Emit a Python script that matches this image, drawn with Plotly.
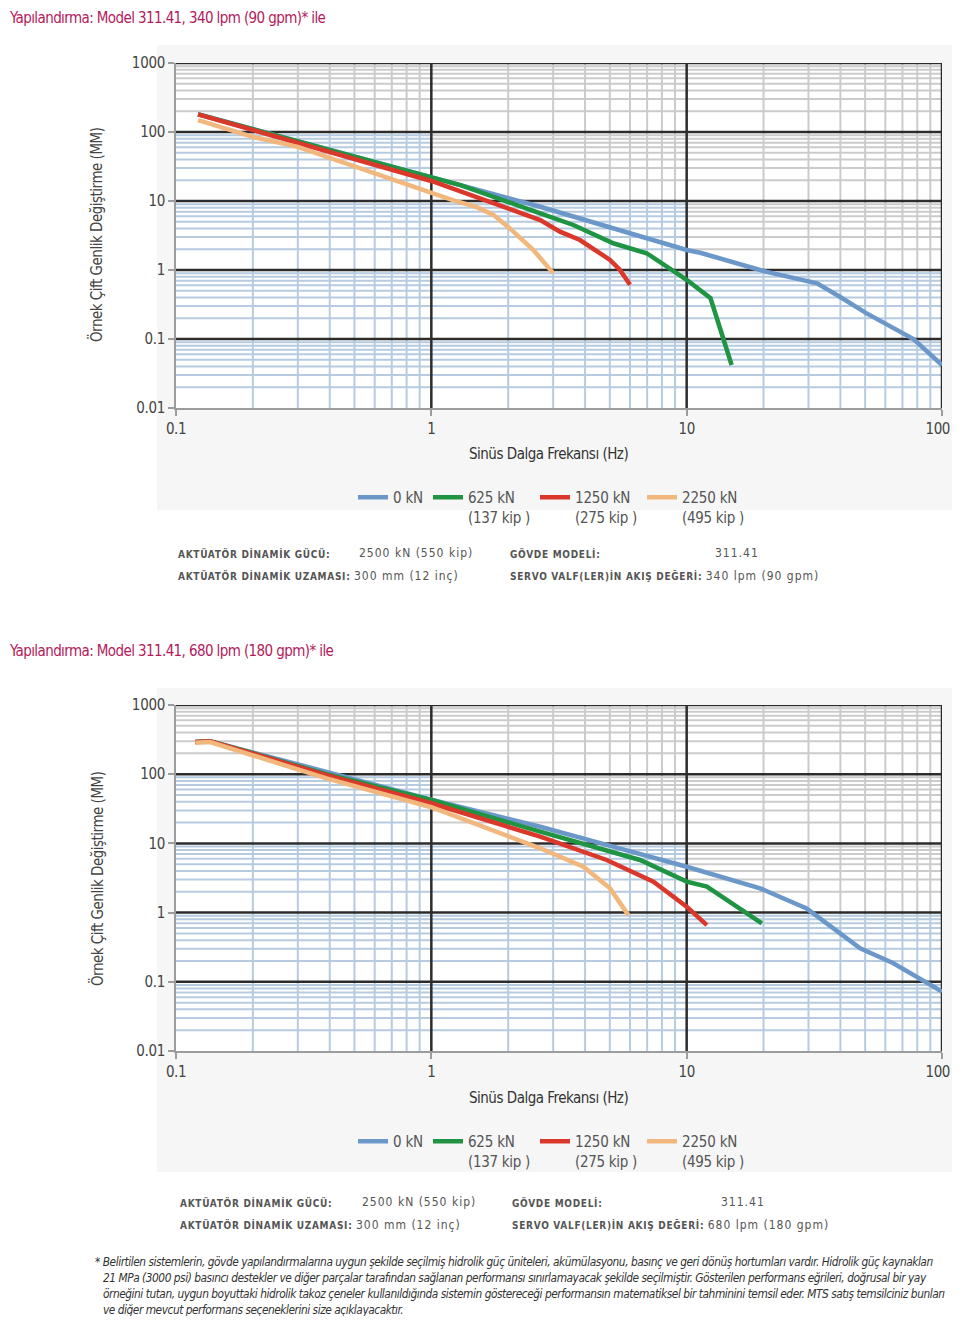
import plotly.graph_objects as go

# page is 960x1324; the browser body keeps an 8px margin, so the figure is
# sized to fit without scrollbars and reference page pixels are shifted by that margin
PAGE_W, PAGE_H, OFF = 960, 1324, 8
W, H = PAGE_W - OFF, PAGE_H - 2 * OFF
FONT = "DejaVu Sans Condensed, sans-serif"

# ---------------- data ----------------
series_labels = [("0 kN", ""), ("625 kN", "(137 kip )"), ("1250 kN", "(275 kip )"), ("2250 kN", "(495 kip )")]
series_colors = ["#6c98c9", "#1f9443", "#d9382b", "#f1b77c"]

# chart 1 : 340 lpm (90 gpm)
t1_blue_x = [0.122, 1.0, 2.67, 10, 11.3, 20.6, 32.4, 39.8, 50.7, 77.3, 100]
t1_blue_y = [182, 22.3, 8.26, 1.95, 1.78, 0.94, 0.64, 0.41, 0.235, 0.1, 0.042]
t1_green_x = [0.122, 1.0, 1.3, 2.67, 3.6, 5.16, 6.97, 10, 12.4, 15.0]
t1_green_y = [180, 22.0, 17.0, 6.63, 4.49, 2.44, 1.75, 0.72, 0.39, 0.042]
t1_red_x = [0.122, 1.0, 2.67, 3.19, 3.82, 5.01, 5.48, 6.0]
t1_red_y = [180, 19.5, 5.3, 3.59, 2.72, 1.40, 1.0, 0.61]
t1_orange_x = [0.122, 0.2, 0.3, 1.0, 1.22, 1.5, 1.75, 2.03, 2.51, 3.0]
t1_orange_y = [149, 85, 61, 13.2, 10.2, 8.2, 6.3, 4.0, 1.95, 0.9]

# chart 2 : 680 lpm (180 gpm)
t2_blue_x = [0.119, 0.136, 1.0, 2.67, 4.86, 10, 19.4, 29.5, 47.8, 64.5, 100]
t2_blue_y = [292, 300, 43, 17.4, 9.5, 4.6, 2.24, 1.15, 0.305, 0.185, 0.072]
t2_green_x = [0.119, 0.136, 0.389, 1.0, 2.67, 4.86, 6.57, 10, 12.0, 19.7]
t2_green_y = [292, 300, 100, 42.4, 14.8, 8.0, 5.76, 2.8, 2.37, 0.70]
t2_red_x = [0.119, 0.136, 0.389, 1.0, 2.67, 4.86, 7.41, 10, 12.0]
t2_red_y = [292, 300, 97, 38, 12.5, 5.76, 2.8, 1.22, 0.66]
t2_orange_x = [0.119, 0.136, 0.389, 1.0, 2.67, 3.94, 5.01, 5.91]
t2_orange_y = [285, 292, 87, 33.3, 8.5, 4.6, 2.24, 0.92]

x_tickvals = [0.1, 1, 10, 100]
x_ticktext = ["0.1", "1", "10", "100"]
y_tickvals = [0.01, 0.1, 1, 10, 100, 1000]
y_ticktext = ["0.01", "0.1", "1", "10", "100", "1000"]

titles = ["Yapılandırma: Model 311.41, 340 lpm (90 gpm)* ile",
          "Yapılandırma: Model 311.41, 680 lpm (180 gpm)* ile"]
y_title = "Örnek Çift Genlik Değiştirme (MM)"
x_title = "Sinüs Dalga Frekansı (Hz)"
info_labels = ["AKTÜATÖR DİNAMİK GÜCÜ:", "AKTÜATÖR DİNAMİK UZAMASI:", "GÖVDE MODELİ:", "SERVO VALF(LER)İN AKIŞ DEĞERİ:"]
info_values_1 = ["2500 kN (550 kip)", "300 mm (12 inç)", "311.41", "340 lpm (90 gpm)"]
info_values_2 = ["2500 kN (550 kip)", "300 mm (12 inç)", "311.41", "680 lpm (180 gpm)"]
footnote_lines = [
    "* Belirtilen sistemlerin, gövde yapılandırmalarına uygun şekilde seçilmiş hidrolik güç üniteleri, akümülasyonu, basınç ve geri dönüş hortumları vardır. Hidrolik güç kaynakları",
    "21 MPa (3000 psi) basıncı destekler ve diğer parçalar tarafından sağlanan performansı sınırlamayacak şekilde seçilmiştir. Gösterilen performans eğrileri, doğrusal bir yay",
    "örneğini tutan, uygun boyuttaki hidrolik takoz çeneler kullanıldığında sistemin göstereceği performansın matematiksel bir tahminini temsil eder. MTS satış temsilciniz bunları",
    "ve diğer mevcut performans seçeneklerini size açıklayacaktır.",
]

# ---------------- helpers ----------------
def px_x(p):
    return min(max(p - OFF, 0), W) / W

def px_y(p):
    return 1 - min(max(p - OFF, 0), H) / H

def ls(text, sp):
    return '<span style="letter-spacing:%spx">%s</span>' % (sp, text)

def x_label(t, last):
    s = ls(t, -0.5)
    if last:  # keep the right-most label inside the visible page edge
        s += '<span style="color:rgba(0,0,0,0)">0</span>'
    return s

GREY = "#cbcbcb"
BLUE = "#b7cbe0"
DARK = "#2c2c2c"


def add_grid(fig, xa, ya):
    gxg, gyg, gxb, gyb, gxd, gyd = [], [], [], [], [], []
    decades = [-1, 0, 1]
    for d, k in enumerate(decades):
        yth = 10 ** (2 - d)
        for m in range(2, 10):
            x = m * 10 ** k
            gxb += [x, x, None]; gyb += [0.01, yth, None]
            gxg += [x, x, None]; gyg += [yth, 1000, None]
    for j in range(-2, 3):
        for m in range(2, 10):
            y = m * 10 ** j
            for d, k in enumerate(decades):
                x0, x1 = 10 ** k, 10 ** (k + 1)
                if y < 10 ** (2 - d):
                    gxb += [x0, x1, None]; gyb += [y, y, None]
                else:
                    gxg += [x0, x1, None]; gyg += [y, y, None]
    for j in range(-1, 4):
        gxd += [0.1, 100, None]; gyd += [10 ** j, 10 ** j, None]
    for k in [0, 1, 2]:
        gxd += [10 ** k, 10 ** k, None]; gyd += [0.01, 1000, None]
    for gx, gy, col, w in [(gxg, gyg, GREY, 2), (gxb, gyb, BLUE, 2), (gxd, gyd, DARK, 2.5)]:
        fig.add_trace(go.Scatter(x=gx, y=gy, mode="lines", line=dict(color=col, width=w),
                                 hoverinfo="skip", showlegend=False, xaxis=xa, yaxis=ya))


def legend_name(a, b):
    s = ls(a, -0.2)
    if b:
        s += "<br>" + ls(b, -0.3)
    return s


fig = go.Figure()

charts = [
    ("x", "y", "legend", [(t1_blue_x, t1_blue_y), (t1_green_x, t1_green_y), (t1_red_x, t1_red_y), (t1_orange_x, t1_orange_y)]),
    ("x2", "y2", "legend2", [(t2_blue_x, t2_blue_y), (t2_green_x, t2_green_y), (t2_red_x, t2_red_y), (t2_orange_x, t2_orange_y)]),
]
for xa, ya, lg, data in charts:
    add_grid(fig, xa, ya)
    for (xs, ys), (a, b), col in zip(data, series_labels, series_colors):
        fig.add_trace(go.Scatter(x=xs, y=ys, mode="lines", name=legend_name(a, b), legend=lg,
                                 line=dict(color=col, width=4.5), xaxis=xa, yaxis=ya))

# layout geometry (reference page pixels)
plot_boxes = [(176, 942, 63, 408), (176, 942, 705, 1051)]
axis_common = dict(type="log", showgrid=False, zeroline=False, showline=True, automargin=False,
                   linecolor="#9c9c9c", linewidth=2, ticks="outside", ticklen=6,
                   tickcolor="#9c9c9c", tickwidth=2,
                   tickfont=dict(family=FONT, size=15, color="#444444"))

layout = dict(template="none", width=W, height=H, margin=dict(l=0, r=0, t=0, b=0, pad=0),
              paper_bgcolor="white", plot_bgcolor="white",
              font=dict(family=FONT, color="#444444"), showlegend=True)

for i, (x0, x1, y0, y1) in enumerate(plot_boxes):
    sfx = "" if i == 0 else "2"
    layout["xaxis" + sfx] = dict(axis_common, domain=[px_x(x0), px_x(x1)], range=[-1, 2],
                                 tickvals=x_tickvals,
                                 ticktext=[x_label(t, j == len(x_ticktext) - 1) for j, t in enumerate(x_ticktext)],
                                 anchor="y" + sfx)
    layout["yaxis" + sfx] = dict(axis_common, domain=[px_y(y1), px_y(y0)], range=[-2, 3],
                                 tickvals=y_tickvals, ticktext=[ls(t, -0.3) for t in y_ticktext],
                                 anchor="x" + sfx)

legend_common = dict(orientation="h", xanchor="left", yanchor="top", valign="top",
                     bgcolor="rgba(0,0,0,0)", traceorder="normal", borderwidth=0,
                     font=dict(family=FONT, size=15, color="#555555"), itemclick=False)
layout["legend"] = dict(legend_common, x=px_x(353), y=px_y(481))
layout["legend2"] = dict(legend_common, x=px_x(353), y=px_y(1125))

shapes = []
for (top, bot) in [(45, 510), (688, 1172)]:
    shapes.append(dict(type="rect", xref="paper", yref="paper", x0=px_x(157), x1=1,
                       y0=px_y(bot), y1=px_y(top), fillcolor="#f6f6f6", line=dict(width=0), layer="below"))
for sfx in ["", "2"]:
    shapes.append(dict(type="rect", xref="x%s domain" % sfx, yref="y%s domain" % sfx, x0=0, x1=1, y0=0, y1=1,
                       fillcolor="white", line=dict(width=0), layer="below"))
layout["shapes"] = shapes

ann = []
# first title would sit above the figure's top edge; anchor its top to the edge
ann.append(dict(text=ls(titles[0], -0.6), x=px_x(3), y=1, xref="paper", yref="paper", xanchor="left",
                yanchor="top", showarrow=False, borderpad=0,
                font=dict(family=FONT, size=15, color="#b41a5c")))
ann.append(dict(text=ls(titles[1], -0.6), x=px_x(7), y=px_y(651), xref="paper", yref="paper", xanchor="left",
                yanchor="middle", showarrow=False, borderpad=0,
                font=dict(family=FONT, size=15, color="#b41a5c")))

for (yc, xt_y) in [(235, 454), (879, 1098)]:
    ann.append(dict(text=ls(y_title, -0.5), x=px_x(97), y=px_y(yc), xref="paper", yref="paper", textangle=-90,
                    xanchor="center", yanchor="middle", showarrow=False,
                    font=dict(family=FONT, size=15, color="#444444")))
    ann.append(dict(text=ls(x_title, -0.5), x=px_x(548), y=px_y(xt_y), xref="paper", yref="paper",
                    xanchor="center", yanchor="middle", showarrow=False,
                    font=dict(family=FONT, size=15, color="#333333")))

LBL = '<span style="letter-spacing:0.7px;font-size:10px"><b>%s</b></span>'
VAL = '<span style="letter-spacing:1.0px">%s</span>'
info_sets = [(info_values_1, 176, 357, 508, 713, 553, 576),
             (info_values_2, 178, 360, 510, 719, 1202, 1225)]
for vals, xl, xv, xl2, xv2, r1, r2 in info_sets:
    items = [
        (LBL % info_labels[0], xl, r1), (VAL % vals[0], xv, r1),
        (LBL % info_labels[1] + " " + VAL % vals[1], xl, r2),
        (LBL % info_labels[2], xl2, r1), (VAL % vals[2], xv2, r1),
        (LBL % info_labels[3] + " " + VAL % vals[3], xl2, r2),
    ]
    for txt, xx, yy in items:
        ann.append(dict(text=txt, x=px_x(xx), y=px_y(yy), xref="paper", yref="paper", xanchor="left",
                        yanchor="middle", showarrow=False,
                        font=dict(family=FONT, size=12, color="#555555")))

for i, line in enumerate(footnote_lines):
    ann.append(dict(text="<i>%s</i>" % ls(line, -0.46), x=px_x(93 if i == 0 else 101), y=px_y(1262 + 16 * i),
                    xref="paper", yref="paper", xanchor="left", yanchor="middle", showarrow=False,
                    font=dict(family=FONT, size=11.8, color="#333333")))
layout["annotations"] = ann

fig.update_layout(**layout)
fig.write_html("out.html")
